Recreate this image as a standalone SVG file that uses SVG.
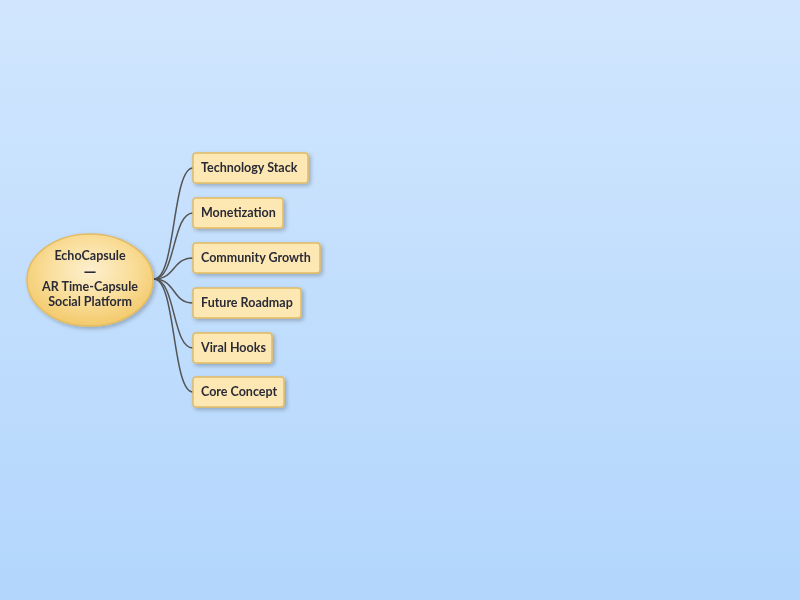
<svg xmlns="http://www.w3.org/2000/svg" width="800" height="600" viewBox="0 0 800 600">
<defs>
<linearGradient id="bg" x1="0" y1="0" x2="0" y2="1">
<stop offset="0" stop-color="#d1e6fe"/>
<stop offset="1" stop-color="#b2d6fc"/>
</linearGradient>
<radialGradient id="rootFill" cx="0.5" cy="0.4" r="0.6">
<stop offset="0" stop-color="#fdf0cf"/>
<stop offset="0.6" stop-color="#f9dc96"/>
<stop offset="1" stop-color="#f3c96a"/>
</radialGradient>
<filter id="sh" x="-20%" y="-30%" width="150%" height="170%">
<feGaussianBlur in="SourceAlpha" stdDeviation="2"/>
<feOffset dx="2" dy="2" result="b"/>
<feComponentTransfer><feFuncA type="linear" slope="0.25"/></feComponentTransfer>
<feMerge><feMergeNode/><feMergeNode in="SourceGraphic"/></feMerge>
</filter>
</defs>
<style>
.box{fill:#fde8b4;stroke:#e2bb62;stroke-width:1.5}
.lbl{font-family:Lato,"Open Sans","DejaVu Sans",sans-serif;font-weight:bold;font-size:12.5px;fill:#2b2b36}
.dash{font-family:"DejaVu Sans",sans-serif;font-weight:bold;font-size:12.5px;fill:#2b2b36}
.edge{fill:none;stroke:#555;stroke-width:1.5}
</style>
<rect width="800" height="600" fill="url(#bg)"/>
<g id="connectors">
<path class="edge" d="M154,279 C176,279 172,168 193,168"/>
<path class="edge" d="M154,279 C176,279 172,213 193,213"/>
<path class="edge" d="M154,279 C176,279 172,258 193,258"/>
<path class="edge" d="M154,279 C176,279 172,303 193,303"/>
<path class="edge" d="M154,279 C176,279 172,348 193,348"/>
<path class="edge" d="M154,279 C176,279 172,392 193,392"/>
</g>
<g id="root" filter="url(#sh)">
<ellipse cx="90" cy="280" rx="63" ry="46" fill="url(#rootFill)" stroke="#e2bb62" stroke-width="1.5"/>
<text class="lbl" x="90" y="260" text-anchor="middle">EchoCapsule</text>
<text class="dash" x="90" y="276" text-anchor="middle">—</text>
<text class="lbl" x="90" y="291" text-anchor="middle">AR Time-Capsule</text>
<text class="lbl" x="90" y="306" text-anchor="middle">Social Platform</text>
</g>
<g id="n1" filter="url(#sh)">
<rect class="box" x="193" y="153" width="115" height="30" rx="3"/>
<text class="lbl" x="201" y="172">Technology Stack</text>
</g>
<g id="n2" filter="url(#sh)">
<rect class="box" x="193" y="198" width="90" height="30" rx="3"/>
<text class="lbl" x="201" y="217">Monetization</text>
</g>
<g id="n3" filter="url(#sh)">
<rect class="box" x="193" y="243" width="127" height="30" rx="3"/>
<text class="lbl" x="201" y="262">Community Growth</text>
</g>
<g id="n4" filter="url(#sh)">
<rect class="box" x="193" y="288" width="108" height="30" rx="3"/>
<text class="lbl" x="201" y="307">Future Roadmap</text>
</g>
<g id="n5" filter="url(#sh)">
<rect class="box" x="193" y="333" width="79" height="30" rx="3"/>
<text class="lbl" x="201" y="352">Viral Hooks</text>
</g>
<g id="n6" filter="url(#sh)">
<rect class="box" x="193" y="377" width="91" height="30" rx="3"/>
<text class="lbl" x="201" y="396">Core Concept</text>
</g>
</svg>
